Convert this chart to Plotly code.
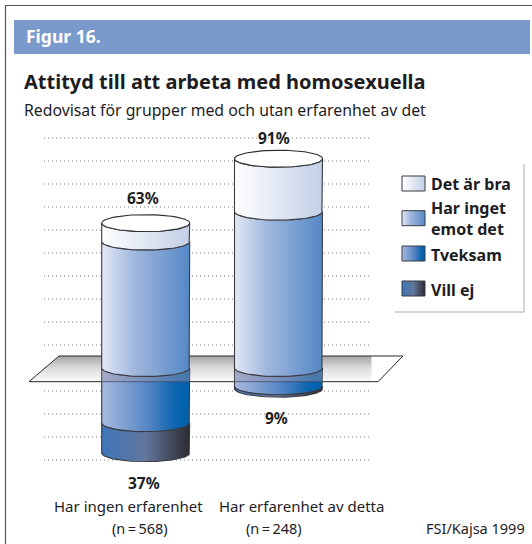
import numpy as np
import plotly.graph_objects as go

# ---- data ----
groups = ["Har ingen erfarenhet", "Har erfarenhet av detta"]
group_n = ["(n\u2009=\u2009568)", "(n\u2009=\u2009248)"]
group_pos = [0, 1]
det_ar_bra = [8, 23]
har_inget = [55, 68]
tveksam = [24, 8]
vill_ej = [13, 1]
label_pos = ["63%", "91%"]
label_neg = ["37%", "9%"]
grid_values = [100, 90, 80, 70, 60, 50, 40, 30, 20, 10, 0, -10, -20, -30, -40]
legend_names = ["Det är bra", "Har inget<br>emot det", "Tveksam", "Vill ej"]

W, H = 532, 544
FONT = "Noto Sans"
INK = "#1d1d1f"

# ---- plot geometry (pixels) ----
GL, GR = 44, 371           # gridline extent
ZERO_PX, UNIT_PX = 368.0, 2.3
PL, PR, PT, PB = 25, 407, 128, 472   # plot area
C0, C1 = 145.7, 278.5
pxx = C1 - C0
half_w = 44 / pxx
semi_h = 8.5 / UNIT_PX


def xu(px):
    return (px - C0) / pxx


def yu(py):
    return (ZERO_PX - py) / UNIT_PX


grads = {
    "bra": [[0, "#ffffff"], [1, "#c2cfe6"]],
    "inget": [[0, "#e2e8f5"], [0.35, "#a3b9de"], [1, "#5488c6"]],
    "tveksam": [[0, "#a9badd"], [0.5, "#5a88c6"], [0.85, "#0a63ae"], [1, "#0060ac"]],
    "ej": [[0, "#3f76ba"], [0.5, "#62769c"], [1, "#2b2b30"]],
}

fig = go.Figure()

# dotted gridlines
for g in grid_values:
    fig.add_trace(go.Scatter(
        x=[xu(GL), xu(GR)], y=[g, g], mode="lines",
        line=dict(color="#7d7d7d", width=1, dash="1px,3px"), hoverinfo="skip", showlegend=False))


def arc(cx, y, reverse=False):
    t = np.linspace(np.pi, 2 * np.pi, 41)
    xs = cx + half_w * np.cos(t)
    ys = y + semi_h * np.sin(t)
    return (xs[::-1], ys[::-1]) if reverse else (xs, ys)


def segment(cx, y_top, y_bot, scale):
    xa, ya = arc(cx, y_top)
    xb, yb = arc(cx, y_bot, reverse=True)
    xs = np.concatenate([xa, xb, xa[:1]])
    ys = np.concatenate([ya, yb, ya[:1]])
    fig.add_trace(go.Scatter(
        x=xs, y=ys, mode="lines", fill="toself",
        fillgradient=dict(type="horizontal", colorscale=scale),
        line=dict(color="#3a3a42", width=1.1), hoverinfo="skip", showlegend=False))


# plane behind the cylinders
plane_x = [xu(59), xu(403), xu(378), xu(29), xu(59)]
plane_top, plane_bot = yu(356), yu(381.7)
plane_y = [plane_top, plane_top, plane_bot, plane_bot, plane_top]
fig.add_trace(go.Scatter(
    x=plane_x, y=plane_y, mode="lines", fill="toself",
    fillgradient=dict(type="vertical",
                      colorscale=[[0, "#fafafa"], [0.5, "#dedede"], [1, "#a6a6a6"]]),
    hoverinfo="skip", line=dict(width=0), showlegend=False))
# white sliver at the plane's right end
fig.add_trace(go.Scatter(
    x=[xu(371.5), xu(403), xu(378), xu(371.5), xu(371.5)],
    y=[plane_top, plane_top, plane_bot, plane_bot, plane_top],
    mode="lines", fill="toself", fillcolor="white",
    line=dict(width=0), hoverinfo="skip", showlegend=False))
fig.add_trace(go.Scatter(
    x=plane_x, y=plane_y, mode="lines",
    line=dict(color="#26262a", width=1), hoverinfo="skip", showlegend=False))

# below zero
for i, cx in enumerate(group_pos):
    segment(cx, 0, -tveksam[i], grads["tveksam"])
    segment(cx, -tveksam[i], -tveksam[i] - vill_ej[i], grads["ej"])
    # the plane's front part lying over the cylinder
    xa, ya = arc(cx, 0)
    fig.add_trace(go.Scatter(
        x=np.concatenate([xa, [cx + half_w, cx - half_w, cx - half_w]]),
        y=np.concatenate([ya, [plane_bot, plane_bot, 0]]),
        mode="lines", fill="toself", fillcolor="rgba(160,150,170,0.45)",
        line=dict(width=0), hoverinfo="skip", showlegend=False))
    # plane's front edge seen through the cylinder
    fig.add_trace(go.Scatter(
        x=[cx - half_w, cx + half_w], y=[plane_bot, plane_bot], mode="lines",
        line=dict(color="rgba(60,70,110,0.75)", width=1), hoverinfo="skip", showlegend=False))

# above zero
for i, cx in enumerate(group_pos):
    mid = har_inget[i]
    top = mid + det_ar_bra[i]
    segment(cx, mid, 0, grads["inget"])
    segment(cx, top, mid, grads["bra"])
    t = np.linspace(0, 2 * np.pi, 81)
    fig.add_trace(go.Scatter(
        x=cx + half_w * np.cos(t), y=top + semi_h * np.sin(t),
        mode="lines", fill="toself", fillcolor="white",
        line=dict(color="#2b2b30", width=1.1), hoverinfo="skip", showlegend=False))

# legend swatches, on a small pixel axis beside the plot
LG_L, LG_T, LG_B = 398, 160, 320
swatches = [(176, "bra"), (210.7, "inget"), (246, "tveksam"), (281, "ej")]
for y0, key in swatches:
    y1 = y0 + 15
    fig.add_trace(go.Scatter(
        x=[402, 425, 425, 402, 402], y=[y0, y0, y1, y1, y0], xaxis="x2", yaxis="y2",
        mode="lines", fill="toself",
        fillgradient=dict(type="horizontal", colorscale=grads[key]),
        line=dict(color="#3a3a42", width=1), hoverinfo="skip", showlegend=False))


def px_x(p):
    return p / W


def px_y(p):
    return 1 - p / H


ann = []


def text(x, y, s, size, bold=False, color=INK, anchor="center", vanchor="middle"):
    ann.append(dict(
        x=px_x(x), y=px_y(y), xref="paper", yref="paper", text=f"<b>{s}</b>" if bold else s,
        showarrow=False, xanchor=anchor, yanchor=vanchor, align="left", borderpad=0, borderwidth=0,
        font=dict(family=FONT, size=size, color=color)))


text(26, 36, "Figur 16.", 17.5, True, "white", "left")
text(24, 81, "Attityd till att arbeta med homosexuella", 20, True, INK, "left")
text(24, 110, "Redovisat för grupper med och utan erfarenhet av det", 15.8, False, INK, "left")

# value labels placed through the data axes
for i, cx in enumerate(group_pos):
    top = det_ar_bra[i] + har_inget[i]
    low = tveksam[i] + vill_ej[i]
    ann.append(dict(x=cx, y=top, xref="x", yref="y", text=f"<b>{label_pos[i]}</b>",
                    showarrow=False, yshift=[25, 21][i], xshift=[-3, -5][i],
                    font=dict(family=FONT, size=15.5, color=INK)))
    ann.append(dict(x=cx, y=-low, xref="x", yref="y", text=f"<b>{label_neg[i]}</b>",
                    showarrow=False, yshift=[-30, -29][i], xshift=[-2, -2][i],
                    font=dict(family=FONT, size=15.5, color=INK)))

text(128, 505.5, groups[0], 15)
text(301.7, 505.5, groups[1], 15)
text(139.5, 528, group_n[0], 14.5)
text(274, 528, group_n[1], 14.5)
text(525, 528, "FSI/Kajsa 1999", 14.5, False, INK, "right")

text(431, 184, legend_names[0], 16, True, INK, "left")
text(431, 218, legend_names[1], 16, True, INK, "left")
text(431, 255, legend_names[2], 16, True, INK, "left")
text(431, 290, legend_names[3], 16, True, INK, "left")

shapes = [
    dict(type="rect", xref="paper", yref="paper", x0=px_x(5.5), x1=px_x(560), y0=px_y(5.5), y1=px_y(560),
         line=dict(color="#555555", width=1.2), fillcolor="rgba(0,0,0,0)", layer="below"),
    dict(type="rect", xref="paper", yref="paper", x0=px_x(14), x1=px_x(530), y0=px_y(20), y1=px_y(54),
         line=dict(width=0), fillcolor="#7a9acb", layer="below"),
    dict(type="line", xref="paper", yref="paper", x0=px_x(524), x1=px_x(524), y0=px_y(164), y1=px_y(312),
         line=dict(color="#c8c8c8", width=1.5)),
    dict(type="line", xref="paper", yref="paper", x0=px_x(395), x1=px_x(524), y0=px_y(312), y1=px_y(312),
         line=dict(color="#c8c8c8", width=1.5)),
]

fig.update_layout(
    width=W, height=H, margin=dict(l=0, r=0, t=0, b=0), autosize=False,
    paper_bgcolor="white", plot_bgcolor="rgba(0,0,0,0)", showlegend=False,
    annotations=ann, shapes=shapes,
    xaxis=dict(domain=[PL / W, PR / W], range=[xu(PL), xu(PR)], visible=False, fixedrange=True),
    yaxis=dict(domain=[1 - PB / H, 1 - PT / H], range=[yu(PB), yu(PT)],
               showgrid=False, zeroline=False, showline=False, showticklabels=False, ticks="", fixedrange=True),
    xaxis2=dict(domain=[LG_L / W, 1], range=[LG_L, W], visible=False, anchor="y2", fixedrange=True),
    yaxis2=dict(domain=[1 - LG_B / H, 1 - LG_T / H], range=[LG_B, LG_T], visible=False, anchor="x2", fixedrange=True),
)

fig.write_html("out.html", config={"displayModeBar": False},
               post_script="document.body.style.margin='0';")
